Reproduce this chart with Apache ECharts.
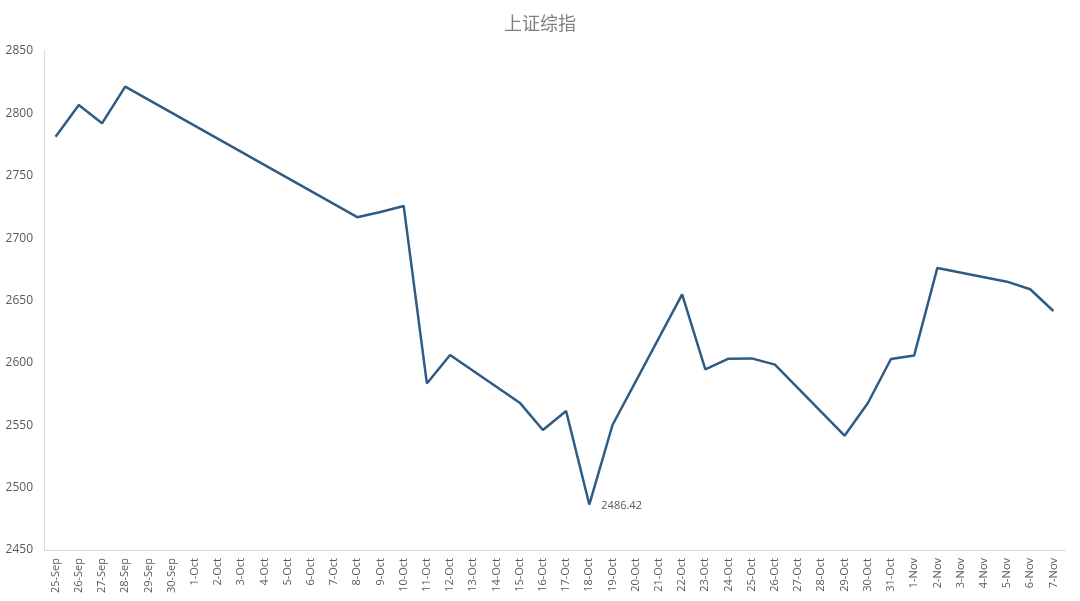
<!DOCTYPE html>
<html>
<head>
<meta charset="utf-8">
<script src="https://cdn.jsdelivr.net/npm/echarts@6/dist/echarts.min.js"></script>
<style>html,body{margin:0;padding:0;background:#fff;}#c{width:1080px;height:601px;}</style>
</head>
<body>
<div id="c"></div>
<script>
const categories = ['25-Sep','26-Sep','27-Sep','28-Sep','29-Sep','30-Sep','1-Oct','2-Oct','3-Oct','4-Oct','5-Oct','6-Oct','7-Oct','8-Oct','9-Oct','10-Oct','11-Oct','12-Oct','13-Oct','14-Oct','15-Oct','16-Oct','17-Oct','18-Oct','19-Oct','20-Oct','21-Oct','22-Oct','23-Oct','24-Oct','25-Oct','26-Oct','27-Oct','28-Oct','29-Oct','30-Oct','31-Oct','1-Nov','2-Nov','3-Nov','4-Nov','5-Nov','6-Nov','7-Nov'];
const values = [2781.3,2806.7,2792.0,2821.4,null,null,null,null,null,null,null,null,null,2716.8,2721.0,2725.8,2583.5,2606.3,null,null,2568.1,2546.2,2561.4,2486.42,2550.2,null,null,2654.9,2594.8,2603.4,2603.6,2598.6,null,null,2541.6,2567.6,2603.1,2606.0,2676.1,null,null,2665.1,2659.0,2641.6];
const labelledIndex = 23;

const seriesData = values.map((v, i) => i === labelledIndex ? {
  value: v,
  label: { show: true, position: 'right', distance: 12, offset: [0, 1], color: '#595959', fontSize: 11, fontFamily: 'Open Sans, sans-serif', formatter: p => p.value.toFixed(2) }
} : v);

const chart = echarts.init(document.getElementById('c'));
chart.setOption({
  animation: false,
  backgroundColor: '#fff',
  title: {
    text: '上证综指', left: 'center', top: 9,
    textStyle: { color: '#7f7f7f', fontSize: 18, fontWeight: 'normal', fontFamily: 'Noto Sans CJK SC, sans-serif' }
  },
  grid: { left: 44, right: 15, top: 51, bottom: 51, containLabel: false },
  xAxis: {
    type: 'category', data: categories, boundaryGap: true,
    axisLine: { lineStyle: { color: '#d9d9d9', width: 1 } },
    axisTick: { show: false },
    axisLabel: { rotate: 90, interval: 0, color: '#595959', fontSize: 11, margin: 8, fontFamily: 'Open Sans, sans-serif' },
    splitLine: { show: false }
  },
  yAxis: {
    type: 'value', min: 2450, max: 2850, interval: 50,
    axisLine: { show: true, lineStyle: { color: '#d9d9d9', width: 1 } },
    axisTick: { show: false },
    axisLabel: { color: '#595959', fontSize: 12, margin: 11, fontFamily: 'Open Sans, sans-serif', formatter: v => String(v) },
    splitLine: { show: false }
  },
  series: [{
    type: 'line', data: seriesData, connectNulls: true,
    symbol: 'circle', symbolSize: 0, showSymbol: true,
    lineStyle: { color: '#2f5b85', width: 2.5 },
    itemStyle: { color: '#2f5b85' }
  }]
});
</script>
</body>
</html>
